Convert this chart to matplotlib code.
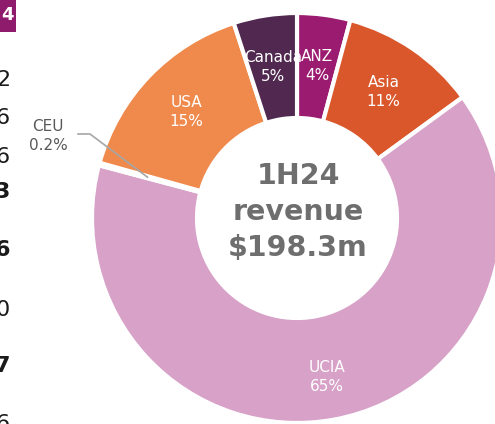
import numpy as np
import matplotlib.pyplot as plt

# Revenue split by region, 1H24
regions = ["ANZ", "Asia", "UCIA", "CEU", "USA", "Canada"]
shares = [4.2, 10.8, 64.3, 0.2, 15.7, 5.0]
share_labels = ["4%", "11%", "65%", "0.2%", "15%", "5%"]
colors = ["#9A1B6F", "#D9572B", "#D7A1C8", "#FFFFFF", "#F08A4C", "#51284F"]

# fragments of the neighbouring table, cut by the left edge
side_values = ["2", "6", "6", "3", "6", "0", "7", "6"]
side_bold = [False, False, False, True, True, False, True, False]
side_rows = [80, 118, 157, 192, 250, 310, 366, 424]

W, H = 495, 424
fig = plt.figure(figsize=(W / 100, H / 100), dpi=100)
ax = fig.add_axes([0, 0, 1, 1])

cx, cy, r_out, r_in = 297, H - 218, 205, 100
wedges, _ = ax.pie(shares, colors=colors, startangle=90, counterclock=False,
                   center=(cx, cy), radius=r_out,
                   wedgeprops=dict(width=r_out - r_in, edgecolor="white", linewidth=3))

for w, name, lab in zip(wedges, regions, share_labels):
    if name == "CEU":
        continue
    mid = np.deg2rad((w.theta1 + w.theta2) / 2)
    rr = 162 if name == "UCIA" else 153
    ax.text(cx + rr * np.cos(mid), cy + rr * np.sin(mid), f"{name}\n{lab}",
            ha="center", va="center", color="white", fontsize=11, linespacing=1.35)

# CEU leader line
ceu = wedges[regions.index("CEU")]
mid = np.deg2rad((ceu.theta1 + ceu.theta2) / 2)
tip = (cx + 155 * np.cos(mid), cy + 155 * np.sin(mid))
ax.plot([78, 90, tip[0]], [H - 134, H - 134, tip[1]], color="#A6A6A6", lw=1.2)
ax.text(48, H - 136, "CEU\n0.2%", ha="center", va="center", color="#595959",
        fontsize=11, linespacing=1.35)

ax.text(cx + 1, cy + 6, "1H24\nrevenue\n$198.3m", ha="center", va="center",
        color="#6E6E6E", fontsize=20.5, fontweight="bold", linespacing=1.35)

# partial table on the left
ax.add_patch(plt.Rectangle((0, H - 32), 16, 32, color="#8E1B6C", lw=0))
ax.text(14, H - 15, "4", ha="right", va="center", color="white", fontsize=13,
        fontweight="bold")
for v, b, y in zip(side_values, side_bold, side_rows):
    ax.text(10, H - y, v, ha="right", va="center", color="#1A1A1A", fontsize=16,
            fontweight="bold" if b else "normal")

ax.set_xlim(0, W)
ax.set_ylim(0, H)
ax.set_aspect("auto")
ax.axis("off")
fig.savefig("out.png", dpi=100)
